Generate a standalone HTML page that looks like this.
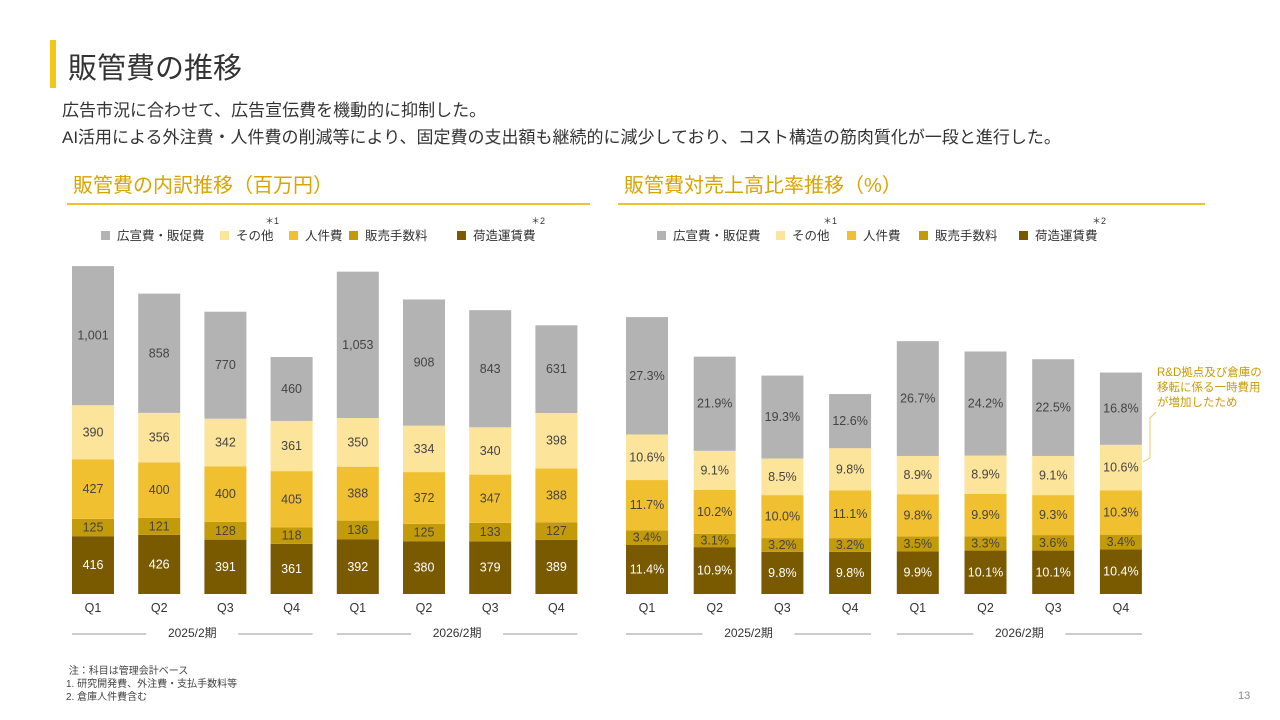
<!DOCTYPE html>
<html><head><meta charset="utf-8">
<style>
body{margin:0;width:1280px;height:720px;background:#fff;font-family:"Liberation Sans","Noto Sans CJK JP",sans-serif;overflow:hidden;position:relative;color:#333}
.abs{position:absolute;white-space:nowrap}
</style></head><body>
<div class="abs" style="left:50px;top:40px;width:6px;height:48px;background:#f5c518"></div>
<div class="abs" style="left:68px;top:45px;font-size:29px;color:#333">販管費の推移</div>
<div class="abs" style="left:62px;top:97px;font-size:17px;line-height:27px;color:#333">広告市況に合わせて、広告宣伝費を機動的に抑制した。<br>AI活用による外注費・人件費の削減等により、固定費の支出額も継続的に減少しており、コスト構造の筋肉質化が一段と進行した。</div>
<svg id="chart" width="1280" height="720" style="position:absolute;left:0;top:0"></svg>
<script>
const quarters=["Q1","Q2","Q3","Q4","Q1","Q2","Q3","Q4"];
const seriesNames=["荷造運賃費","販売手数料","人件費","その他","広宣費・販促費"];
const leftFreight=[416,426,391,361,392,380,379,389];
const leftCommission=[125,121,128,118,136,125,133,127];
const leftPersonnel=[427,400,400,405,388,372,347,388];
const leftOther=[390,356,342,361,350,334,340,398];
const leftAds=[1001,858,770,460,1053,908,843,631];
const rightFreight=[11.4,10.9,9.8,9.8,9.9,10.1,10.1,10.4];
const rightCommission=[3.4,3.1,3.2,3.2,3.5,3.3,3.6,3.4];
const rightPersonnel=[11.7,10.2,10.0,11.1,9.8,9.9,9.3,10.3];
const rightOther=[10.6,9.1,8.5,9.8,8.9,8.9,9.1,10.6];
const rightAds=[27.3,21.9,19.3,12.6,26.7,24.2,22.5,16.8];
const periods=["2025/2期","2026/2期"];
const colors=["#7a5a00","#c39a0a","#f0c030","#fde49b","#b3b3b3"];
const txtColors=["#fff","#444","#444","#444","#444"];
const svg=document.getElementById('chart');
const NS="http://www.w3.org/2000/svg";
function mk(tag,attrs,parent){const e=document.createElementNS(NS,tag);for(const k in attrs)e.setAttribute(k,attrs[k]);(parent||svg).appendChild(e);return e;}
function txt(x,y,s,size,fill,anchor,parent){const t=mk('text',{x:x,y:y,'font-size':size,fill:fill,'text-anchor':anchor||'middle','dominant-baseline':'central'},parent);t.textContent=s;return t;}
function drawChart(cfg){
  const g=mk('g',{});
  
  
  const h=txt(cfg.x0+6,186,cfg.title,20,"#d9a400","start",g);
  
  
  const ul=mk('line',{x1:cfg.x0,x2:cfg.x1,y1:204,y2:204,stroke:'#f0c030','stroke-width':2},g);
  
  
  const legOrder=[4,3,2,1,0];
  const legX=cfg.legX;
  legOrder.forEach((si,i)=>{
    const lx=legX[i];
    const r=mk('rect',{x:lx,y:231,width:9,height:9,fill:colors[si]},g);
    
    
    const t=txt(lx+16,236,seriesNames[si],12.5,"#333","start",g);
    
    
  });
  txt(cfg.star1,221,"＊1",9,"#333","middle",g);
  txt(cfg.star2,221,"＊2",9,"#333","middle",g);
  const yS=v=>594-v*cfg.scale;
  const xC=i=>cfg.c0+i*cfg.step;
  quarters.forEach((q,i)=>{
    let acc=0;
    cfg.series.forEach((arr,si)=>{
      const v=arr[i];
      const y1=yS(acc+v),y0=yS(acc);
      const r=mk('rect',{x:xC(i)-21,y:y1,width:42,height:y0-y1,fill:colors[si]},g);
      
      
      const lab=cfg.fmt(v);
      const t=txt(xC(i),(y0+y1)/2,lab,12.5,txtColors[si],"middle",g);
      
      
      acc+=v;
    });
    const ql=txt(xC(i),608,q,12.5,"#333","middle",g);
    
    
  });
  periods.forEach((p,pi)=>{
    const a=xC(pi*4)-21,b=xC(pi*4+3)+21,m=(a+b)/2;
    const pl=txt(m,633,p,12,"#333","middle",g);
    
    
    mk('line',{x1:a,x2:m-46,y1:634,y2:634,stroke:'#999','stroke-width':1},g);
    mk('line',{x1:m+46,x2:b,y1:634,y2:634,stroke:'#999','stroke-width':1},g);
  });
}
drawChart({name:'sga-breakdown-chart',title:'販管費の内訳推移（百万円）',x0:67,x1:590,legX:[101,220,289,349,457],star1:272,star2:538,
  c0:93,step:66.2,scale:0.139,series:[leftFreight,leftCommission,leftPersonnel,leftOther,leftAds],fmt:v=>v.toLocaleString('en-US')});
drawChart({name:'sga-ratio-chart',title:'販管費対売上高比率推移（%）',x0:618,x1:1205,legX:[657,776,847,919,1019],star1:830,star2:1099,
  c0:647,step:67.7,scale:4.30,series:[rightFreight,rightCommission,rightPersonnel,rightOther,rightAds],fmt:v=>v.toFixed(1)+'%'});
const ann=mk('polyline',{points:'1143,462 1150,458 1150,418 1156,412',fill:'none',stroke:'#e8c860','stroke-width':1});


["R&D拠点及び倉庫の","移転に係る一時費用","が増加したため"].forEach((s,i)=>{
  const t=txt(1157,373+i*15,s,11.5,"#c99a00","start");
  
  
});
</script>
<div class="abs" style="left:66px;top:665px;font-size:10px;line-height:13px;color:#444">&nbsp;注：科目は管理会計ベース<br>1.&nbsp;研究開発費、外注費・支払手数料等<br>2.&nbsp;倉庫人件費含む</div>
<div class="abs" style="left:1238px;top:690px;font-size:11px;color:#888">13</div>
</body></html>
